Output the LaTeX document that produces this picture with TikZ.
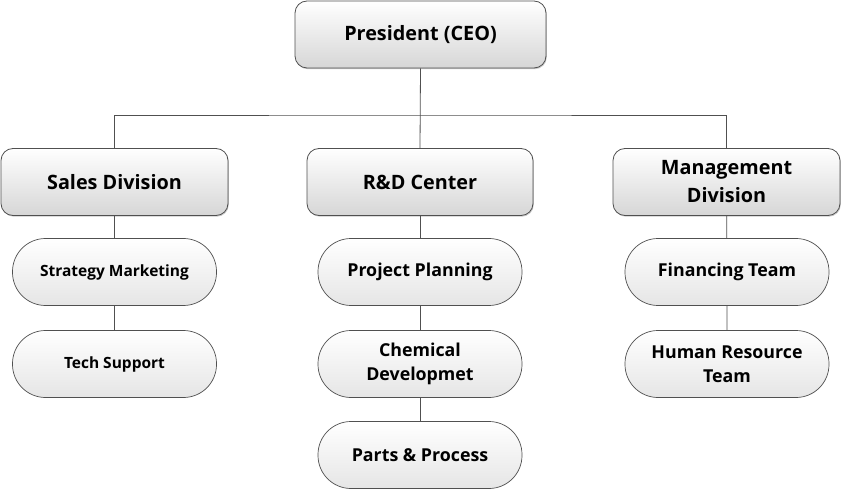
\documentclass[tikz,border=0pt]{standalone}
\usepackage{fontspec}
\setmainfont{Open Sans}
\usetikzlibrary{shadows}
\definecolor{edge}{HTML}{505050}
\tikzset{
  box/.style={draw=edge, line width=0.8pt, rounded corners=12pt, top color=white, bottom color=black!16,
     minimum width=#1, minimum height=67pt, align=center, inner sep=0pt,
     font=\bfseries\fontsize{19.8}{28}\selectfont,
     drop shadow={shadow xshift=0.8pt, shadow yshift=-1.2pt, fill=black!35, opacity=0.6}},
  pill/.style={draw=edge, line width=0.7pt, rounded corners=33pt, top color=white, bottom color=black!10,
     minimum width=204pt, minimum height=67pt, align=center, inner sep=0pt,
     font=\bfseries\fontsize{17.8}{24}\selectfont},
  small/.style={font=\bfseries\fontsize{15.5}{20}\selectfont},
  link/.style={draw=edge, line width=0.8pt}
}
\begin{document}
\begin{tikzpicture}[x=1pt,y=-1pt]
\useasboundingbox (0,0) rectangle (841,489);
\node[box=251pt] (ceo) at (420.5,34.5) {President (CEO)};
\node[box=227pt] (sales) at (114.5,182) {Sales Division};
\node[box=226pt] (rd) at (420,182) {R\&D Center};
\node[box=227pt] (mgmt) at (726.5,182) {Management\\Division};
\node[pill, small] (sm) at (114.5,272) {Strategy Marketing};
\node[pill, small] (ts) at (114.5,364) {Tech Support};
\node[pill] (pp) at (420,272) {Project Planning};
\node[pill] (cd) at (420,364) {Chemical\\Developmet};
\node[pill] (pr) at (420,455) {Parts \& Process};
\node[pill] (fin) at (727,272) {Financing Team};
\node[pill] (hr) at (727,364) {Human Resource\\Team};
\coordinate (bus) at (420,115);
\begin{scope}[on background layer/.try]
\draw[link] (ceo.south) -- (rd.north);
\draw[link] (sales.north) |- (bus) -| (mgmt.north);
\draw[link] (sales) -- (sm) -- (ts);
\draw[link] (rd) -- (pp) -- (cd) -- (pr);
\draw[link] (mgmt) -- (fin) -- (hr);
\end{scope}
\end{tikzpicture}
\end{document}
